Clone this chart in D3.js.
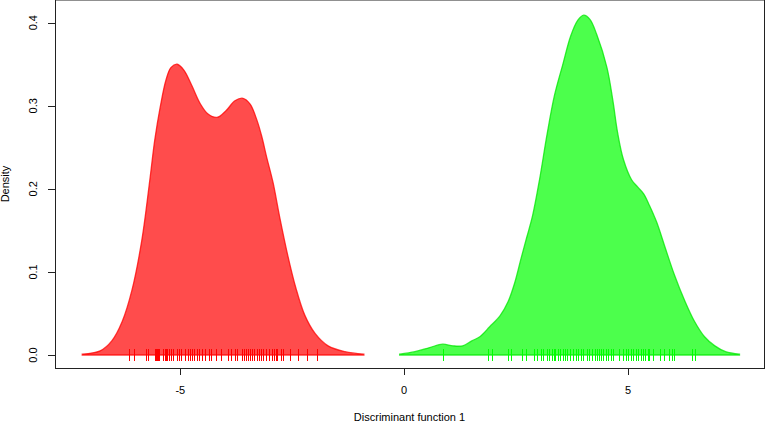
<!DOCTYPE html>
<html>
<head>
<meta charset="utf-8">
<title>Discriminant density</title>
<script src="https://cdn.jsdelivr.net/npm/d3@7"></script>
<style>
  body { margin: 0; background: #fff; }
  text { font-family: "Liberation Sans", Arial, sans-serif; font-size: 11px; fill: #000; }
</style>
</head>
<body>
<svg id="chart" width="767" height="423"></svg>
<script>
// density curve of group 1 (red)
const redX = [-7.19, -6.79, -6.53, -6.30, -6.08, -5.86, -5.68, -5.57, -5.45, -5.32, -5.21, -5.07,
  -4.92, -4.74, -4.56, -4.38, -4.18, -3.98, -3.78, -3.60, -3.44, -3.29, -3.18, -3.07, -2.93,
  -2.78, -2.60, -2.42, -2.22, -1.99, -1.70, -1.32, -0.90]
const redY = [0.001, 0.005, 0.017, 0.040, 0.078, 0.138, 0.211, 0.259, 0.298, 0.331, 0.346, 0.350,
  0.343, 0.324, 0.303, 0.290, 0.286, 0.294, 0.306, 0.309, 0.302, 0.283, 0.263, 0.238, 0.208,
  0.166, 0.120, 0.081, 0.048, 0.026, 0.011, 0.004, 0.001]

// density curve of group 2 (green)
const greenX = [-0.10, 0.24, 0.57, 0.86, 1.09, 1.31, 1.51, 1.69, 1.91, 2.14, 2.32, 2.47, 2.61,
  2.74, 2.87, 3.03, 3.19, 3.36, 3.54, 3.72, 3.88, 4.01, 4.15, 4.30, 4.53, 4.66, 4.77, 4.90,
  5.08, 5.22, 5.35, 5.48, 5.64, 5.82, 6.04, 6.27, 6.49, 6.71, 6.94, 7.18, 7.49]
const greenY = [0.001, 0.004, 0.009, 0.013, 0.011, 0.011, 0.017, 0.022, 0.034, 0.047, 0.064, 0.087,
  0.116, 0.142, 0.168, 0.213, 0.265, 0.313, 0.349, 0.384, 0.403, 0.409, 0.404, 0.386, 0.346,
  0.307, 0.267, 0.235, 0.211, 0.202, 0.194, 0.180, 0.160, 0.131, 0.096, 0.065, 0.040, 0.022,
  0.011, 0.004, 0.001]

// rug of observed scores
const redRug = [-6.15, -6.03, -5.77, -5.72, -5.57, -5.54, -5.52, -5.50, -5.48, -5.39, -5.34, -5.32,
  -5.30, -5.25, -5.21, -5.16, -5.07, -5.03, -4.98, -4.90, -4.83, -4.78, -4.74, -4.69, -4.63,
  -4.58, -4.52, -4.45, -4.36, -4.32, -4.20, -4.09, -3.94, -3.87, -3.78, -3.73, -3.62, -3.58,
  -3.53, -3.49, -3.44, -3.40, -3.36, -3.29, -3.24, -3.20, -3.15, -3.09, -3.02, -2.95, -2.91,
  -2.86, -2.84, -2.75, -2.71, -2.55, -2.37, -2.17, -1.95]
const greenRug = [0.86, 1.87, 1.96, 2.32, 2.38, 2.63, 2.72, 2.90, 2.96, 3.05, 3.10, 3.19, 3.23,
  3.30, 3.34, 3.36, 3.43, 3.48, 3.54, 3.59, 3.63, 3.70, 3.77, 3.83, 3.88, 3.94, 3.99, 4.08,
  4.12, 4.19, 4.26, 4.30, 4.35, 4.39, 4.44, 4.50, 4.55, 4.61, 4.66, 4.79, 4.88, 4.95, 4.99,
  5.06, 5.11, 5.17, 5.22, 5.28, 5.33, 5.37, 5.44, 5.48, 5.55, 5.71, 5.80, 5.91, 5.98, 6.02,
  6.44, 6.49]

const xTicks = [-5, 0, 5]
const yTicks = [0.0, 0.1, 0.2, 0.3, 0.4]

const BOX = {left: 55, right: 764, top: 0, bottom: 368}

const svg = d3.select("#chart")

const x = d3.scaleLinear().domain([-5, 5]).range([180.3, 628])
const y = d3.scaleLinear().domain([0, 0.4]).range([355, 22.7])

function drawDensity(xs, ys, fill, stroke) {
  const pts = xs.map((v, i) => ({x: v, y: ys[i]}))
  const area = d3.area()
    .x(d => x(d.x))
    .y0(y(0))
    .y1(d => y(d.y))
    .curve(d3.curveCatmullRom.alpha(0.5))
  svg.append("path")
    .datum(pts)
    .attr("d", area)
    .attr("fill", fill)
    .attr("stroke", stroke)
    .attr("stroke-width", 1.3)
}

function drawRug(vals, col) {
  svg.append("g")
    .selectAll("line")
    .data(vals)
    .join("line")
    .attr("x1", d => Math.round(x(d)) + 0.5)
    .attr("x2", d => Math.round(x(d)) + 0.5)
    .attr("y1", y(0) - 6)
    .attr("y2", y(0) + 6)
    .attr("stroke", col)
    .attr("stroke-width", 1)
}

drawDensity(redX, redY, "rgba(255,0,0,0.7)", "rgba(255,0,0,0.75)")
drawDensity(greenX, greenY, "rgba(0,255,0,0.7)", "rgba(0,230,0,0.75)")
drawRug(redRug, "#ff0000")
drawRug(greenRug, "#00ff00")

// box
svg.append("rect")
  .attr("x", BOX.left + 0.5)
  .attr("y", BOX.top)
  .attr("width", BOX.right - BOX.left)
  .attr("height", BOX.bottom - BOX.top + 0.5)
  .attr("fill", "none")
  .attr("stroke", "#222")

// x axis, R style
let xg = svg.append("g")
xg.selectAll("line")
  .data(xTicks)
  .join("line")
  .attr("x1", d => Math.round(x(d)) + 0.5)
  .attr("x2", d => Math.round(x(d)) + 0.5)
  .attr("y1", BOX.bottom)
  .attr("y2", BOX.bottom + 7)
  .attr("stroke", "#222")
xg.selectAll("text")
  .data(xTicks)
  .join("text")
  .attr("x", d => x(d))
  .attr("y", 394)
  .attr("text-anchor", "middle")
  .text(d => d)

// y axis
let yg = svg.append("g")
yg.selectAll("line")
  .data(yTicks)
  .join("line")
  .attr("x1", BOX.left - 7)
  .attr("x2", BOX.left)
  .attr("y1", d => Math.round(y(d)) + 0.5)
  .attr("y2", d => Math.round(y(d)) + 0.5)
  .attr("stroke", "#222")
yg.selectAll("text")
  .data(yTicks)
  .join("text")
  .attr("transform", d => `translate(37, ${y(d)}) rotate(-90)`)
  .attr("text-anchor", "middle")
  .text(d => d.toFixed(1))

svg.append("text")
  .attr("x", (BOX.left + BOX.right) / 2)
  .attr("y", 421)
  .attr("text-anchor", "middle")
  .text("Discriminant function 1")

svg.append("text")
  .attr("transform", `translate(9, ${(BOX.top + BOX.bottom) / 2}) rotate(-90)`)
  .attr("text-anchor", "middle")
  .text("Density")
</script>
</body>
</html>
